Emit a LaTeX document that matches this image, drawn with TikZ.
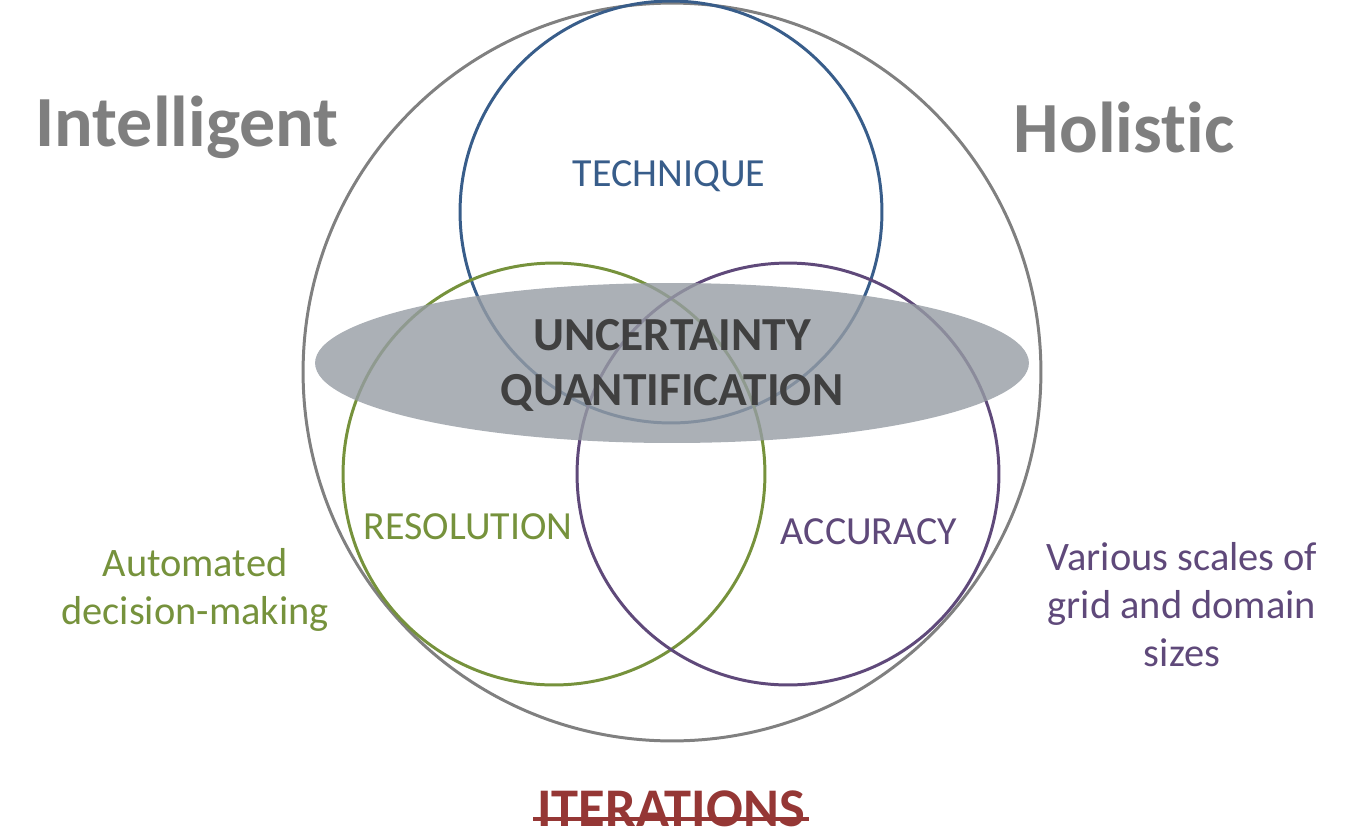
\documentclass[tikz,border=0pt]{standalone}
\usepackage{fontspec}
\setmainfont{Carlito}[Ligatures=NoCommon]
\usepackage{xcolor}
\usetikzlibrary{positioning, shapes.geometric}

\definecolor{ringgray}{HTML}{808080}
\definecolor{techblue}{HTML}{385D8A}
\definecolor{resgreen}{HTML}{76923C}
\definecolor{accpurple}{HTML}{5F497A}
\definecolor{iterred}{HTML}{953735}
\definecolor{uqgray}{HTML}{969CA4}
\definecolor{darktext}{HTML}{404040}
\definecolor{sidegray}{HTML}{7F7F7F}

\begin{document}
\begin{tikzpicture}[
  x=0.02cm, y=-0.02cm,
  ring/.style={circle, draw, line width=1.7pt, minimum size=8.44cm, inner sep=0pt},
  big/.style={font=\fontsize{41}{48}\selectfont\bfseries, text=sidegray},
  tag/.style={font=\fontsize{22.7}{27}\selectfont},
  side/.style={font=\fontsize{23}{27.3}\selectfont, align=center}
]
  \useasboundingbox (0,0) rectangle (1346,836);

  \node[ring, draw=ringgray, minimum size=14.76cm] (outer) at (672,372) {};
  \node[ring, draw=techblue]  (tech) at (671,212) {};
  \node[ring, draw=resgreen]  (res)  at (554,474) {};
  \node[ring, draw=accpurple] (acc)  at (788,474) {};

  \node[ellipse, fill=uqgray, fill opacity=0.8, minimum width=14.28cm,
        minimum height=3.2cm, inner sep=0pt] (uq) at (672,363) {};
  \node[font=\fontsize{27}{31.3}\selectfont\bfseries, text=darktext, align=center]
    (uqtext) at (672,365) {UNCERTAINTY\\QUANTIFICATION};

  \node[tag, text=techblue]  (techtext) at (669,176) {TECHNIQUE};
  \node[tag, text=resgreen]  (restext)  at (468,527) {RESOLUTION};
  \node[tag, text=accpurple] (acctext)  at (869,532) {ACCURACY};

  \node[big] (intel) at (187,127) {Intelligent};
  \node[big] (holis) at (1124,127) {Holistic};

  \node[side, text=resgreen]  (auto)  at (195,590) {Automated\\decision-making};
  \node[side, text=accpurple] (scale) at (1182,605) {Various scales of\\grid and domain\\sizes};

  \node[font=\fontsize{31}{36}\selectfont\bfseries, text=iterred, inner sep=0pt] (iter) at (671,809) {ITERATIONS};
  \draw[iterred, line width=2.2pt] ([xshift=-2pt, yshift=4.5pt]iter.base west) -- ([xshift=2pt, yshift=4.5pt]iter.base east);
\end{tikzpicture}
\end{document}
